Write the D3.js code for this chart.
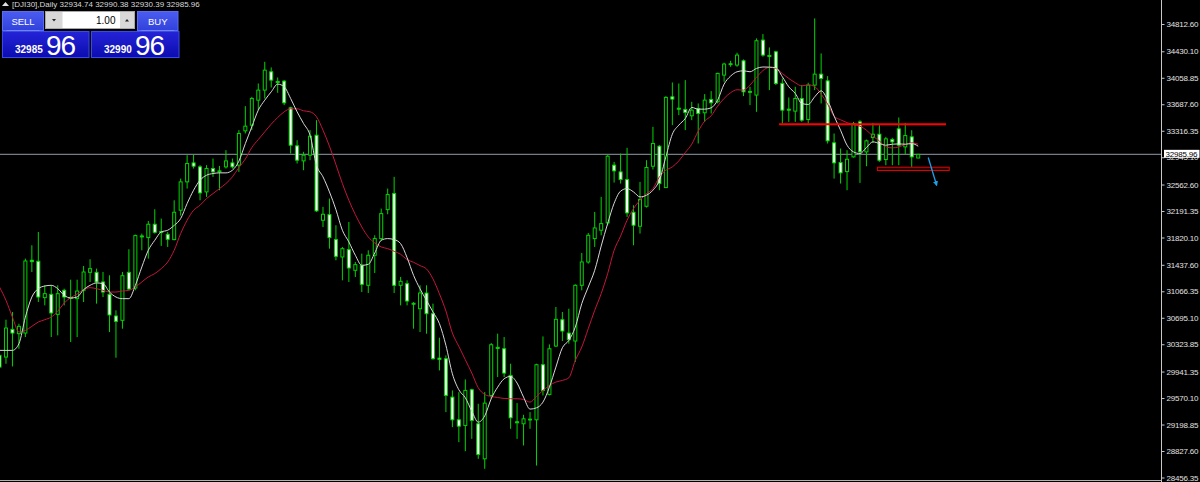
<!DOCTYPE html>
<html>
<head>
<meta charset="utf-8">
<script src="https://cdn.jsdelivr.net/npm/d3@7"></script>
<style>
  html, body { margin: 0; padding: 0; background: #000; }
  svg { display: block; }
  text { font-family: "Liberation Sans", Arial, sans-serif; }
</style>
</head>
<body>
<div id="chart"></div>
<script>
// DJI30 daily candles (bar index 0..142)
const opens = [30168,30144,30532,30472,30481,31501,31487,30977,31024,30743,31080,30981,30963,31080,31332,31332,31197,31024,30720,30659,
  31332,31112,31842,31819,32006,31903,31865,31791,32202,32600,32866,32810,32459,32787,32754,32810,32866,32834,33315,33395,
  33745,33886,34143,34007,34012,33638,33105,32894,32974,33254,32062,32141,31791,31547,31650,31360,31430,31150,31571,31805,
  32211,32436,31150,31173,30897,30822,31042,30752,30130,30121,29583,29265,29186,29686,29209,28718,29606,30280,30261,29887,
  29237,29209,29265,29265,30037,29621,30299,30668,30481,30369,31150,31477,31805,31922,32024,32834,32740,32632,32174,31978,
  32258,32819,33100,32520,33792,33633,33615,33526,33629,33568,33755,33722,34096,34255,34237,34297,33867,33816,34587,34372,
  34423,33979,33619,33591,33769,33474,33956,34110,34016,33147,32871,32744,32950,33441,33020,33221,33268,32913,33193,33343,
  33090,33231,32934.74];
const highs = [30214,30668,30776,30612,31524,31711,31898,31150,31150,31150,31103,31229,31229,31421,31515,31384,31337,31290,30799,31337,
  31655,31861,31875,32052,32216,32085,31898,32342,32646,32974,32983,32834,32834,32927,32824,33044,32927,33325,33661,33792,
  33979,34283,34204,34063,34026,33652,33184,33021,33325,33465,32249,32366,31992,31688,32038,31477,31594,31641,31851,32225,
  32506,32670,31267,31220,30916,31150,31150,30893,30416,30168,29677,29653,29831,29700,29490,29653,30341,30472,30425,30051,
  29499,29335,29373,30051,30434,30322,30846,30776,30822,31164,31603,31884,32179,32389,32974,32880,32997,33077,32272,32600,
  32904,33371,33114,33802,33993,33979,34026,33722,33699,33830,33872,34129,34270,34297,34410,34316,33933,34611,34672,34484,
  34437,34049,33783,33933,33956,33989,34891,34400,34082,33278,33067,33044,33441,33465,33193,33427,33394,33231,33217,33502,
  33427,33324,32990.38];
const lows = [29957,30051,30013,30261,30425,31337,30916,30869,30425,30448,30869,30355,30425,30916,31197,30893,30986,30495,30135,30542,
  31080,31080,31641,31524,31875,31702,31688,31781,32127,32506,32787,32342,32389,32670,32483,32787,32787,32740,33278,33325,
  33605,33769,33923,33848,33675,32997,32857,32763,32904,32179,31968,31664,31501,31220,31197,31267,31056,31042,31323,31772,
  32146,31042,30869,30869,30542,30495,30472,30107,29957,29373,29162,28952,28825,28998,28718,28578,29560,29864,29864,29139,
  28998,28905,29139,28624,29606,29606,30285,30369,30332,30074,31080,31454,31688,31851,31992,32590,32576,32109,31711,31875,
  32240,32773,32483,32515,33395,33535,33325,33465,33138,33441,33558,33699,34003,34213,34213,33802,33675,33582,34354,33886,
  33956,33418,33441,33441,33441,33418,33886,33699,33137,32646,32576,32483,32941,32585,32819,33147,32880,32833,32833,32833,
  32988,32810,32930.39];
const closes = [30004,30551,30481,30575,31491,31482,30986,31033,30762,31033,30986,30967,31070,31337,31384,31197,31056,30734,30645,31285,
  31098,31847,31828,32006,31893,31889,31795,32174,32600,32857,32820,32445,32787,32740,32740,32894,32810,33278,33381,33769,
  33886,34166,34026,33993,33708,33114,32904,32974,33240,32193,32146,31819,31557,31664,31393,31440,31164,31571,31805,32155,
  32422,31150,31206,30930,30888,31042,30752,30121,30112,29607,29265,29176,29677,29256,28779,29499,30317,30266,29920,29293,
  29223,29279,29274,30037,29677,30261,30673,30509,30388,31150,31477,31851,31954,32015,32960,32754,32632,32165,31992,32352,
  32801,33138,32576,33783,33760,33619,33572,33605,33558,33746,33708,34120,34251,34246,34377,33862,33858,34578,34377,34358,
  33979,33605,33605,33769,33465,33956,34110,34049,33175,32866,32726,32917,33418,33020,33175,33268,32903,33203,33160,33114,
  33249,32950,32985.96];

// moving averages as drawn on the chart (fast = white, slow = crimson)
const fastMA = [30238,30238,30238,30331,30705,30986,31103,31140,31150,31103,31010,30972,30986,31089,31150,31183,31173,31056,30986,30963,
  30963,31150,31407,31641,31781,31898,31922,31990,32085,32296,32483,32623,32693,32717,32726,32726,32763,32890,33137,33371,
  33605,33745,33862,33970,33933,33769,33582,33418,33254,32834,32670,32459,32211,31921,31758,31571,31430,31444,31603,31781,
  31805,31791,31734,31538,31290,31100,30939,30776,30612,30308,29910,29686,29574,29387,29232,29320,29560,29723,29840,29873,
  29780,29583,29415,29433,29513,29723,30004,30275,30378,30565,30893,31126,31360,31700,32015,32300,32470,32506,32459,32389,
  32413,32483,32623,32950,33269,33395,33488,33643,33619,33619,33638,33746,33970,34082,34143,34157,34143,34190,34210,34208,
  34199,34073,33932,33839,33699,33685,33792,33876,33745,33521,33324,33114,33020,32997,33081,33161,33137,33114,33128,33132,
  33128,33137,33100];
const slowMA = [31126,30939,30705,30495,30518,30575,30635,30668,30705,30785,30902,30977,31028,31089,31117,31103,31080,31056,31056,31070,
  31080,31126,31197,31267,31314,31384,31477,31641,31875,32062,32202,32272,32366,32436,32506,32576,32670,32800,32920,33081,
  33193,33301,33409,33502,33582,33624,33624,33596,33582,33512,33325,33100,32843,32576,32342,32141,31968,31828,31744,31688,
  31664,31627,31585,31510,31473,31426,31379,31240,31030,30790,30481,30294,30107,29920,29714,29620,29592,29578,29564,29560,
  29560,29550,29513,29592,29677,29747,29794,29817,29854,30098,30285,30542,30799,31033,31313,31641,31840,32062,32226,32342,
  32436,32506,32670,32763,32810,32894,33011,33128,33311,33451,33526,33661,33769,33849,33891,33886,33956,34064,34160,34204,
  34190,34119,34049,33990,33945,33960,33935,33830,33690,33520,33470,33430,33400,33380,33324,33240,33175,33090,33076,33090,
  33123,33147,33128];

const tickLabels = ["34812.60","34430.10","34058.85","33687.60","33316.35","32945.10","32562.60","32191.35","31820.10",
  "31437.60","31066.35","30695.10","30323.85","29941.35","29570.10","29198.85","28827.60","28456.35"];

const symbolTitle = "[DJI30],Daily";
const ohlcText = ["32934.74", "32990.38", "32930.39", "32985.96"];
const bidPrice = "32985.96";
const bidBig = ["32985", "96"];
const askBig = ["32990", "96"];
const lotSize = "1.00";

// drawn objects: [bar index start, bar index end, price]
const resistanceLine = [120.5, 146.3, 33409];
const supportBox = [135.7, 146.8, 32805, 32759];
const arrowPath = [[143.55, 32941], [144.85, 32553]];

const W = 1200, H = 482;
const axisX = 1161.5;
const green = "#00d400";

const svg = d3.select("#chart").append("svg")
  .attr("width", W).attr("height", H)
  .style("background", "#000");

const x = d3.scaleLinear().domain([0, 142]).range([-0.5, 918.2]);
const y = d3.scaleLinear().domain([28456.35, 34812.60]).range([477.5, 24]);

const plot = svg.append("g");
plot.append("clipPath").attr("id", "clip")
  .append("rect").attr("x", 0).attr("y", 0).attr("width", axisX).attr("height", 480);
const g = plot.append("g").attr("clip-path", "url(#clip)");

const bars = opens.map((o, i) => ({ i, o, h: highs[i], l: lows[i], c: closes[i] }));

// current bid line
g.append("line")
  .attr("x1", 0).attr("x2", axisX)
  .attr("y1", y(+bidPrice)).attr("y2", y(+bidPrice))
  .attr("stroke", "#747c86").attr("stroke-width", 1.3);

// wicks
g.selectAll(".wick").data(bars).join("line")
  .attr("class", "wick")
  .attr("x1", (d) => x(d.i)).attr("x2", (d) => x(d.i))
  .attr("y1", (d) => y(d.h)).attr("y2", (d) => y(d.l))
  .attr("stroke", green).attr("stroke-width", 1);

// bodies: bull = black, bear = white
g.selectAll(".body").data(bars).join("rect")
  .attr("class", "body")
  .attr("x", (d) => x(d.i) - 1.5)
  .attr("width", 3)
  .attr("y", (d) => y(Math.max(d.o, d.c)))
  .attr("height", (d) => Math.max(0.8, Math.abs(y(d.o) - y(d.c))))
  .attr("fill", (d) => (d.c >= d.o ? "#000" : "#fff"))
  .attr("stroke", green).attr("stroke-width", 1);

const maLine = d3.line()
  .x((d, i) => x(i))
  .y((d) => y(d))
  .curve(d3.curveMonotoneX);

g.append("path").datum(slowMA)
  .attr("d", maLine).attr("fill", "none")
  .attr("stroke", "#c4163c").attr("stroke-width", 1);

g.append("path").datum(fastMA)
  .attr("d", maLine).attr("fill", "none")
  .attr("stroke", "#d8d8d8").attr("stroke-width", 1);

// drawn objects
g.append("line")
  .attr("x1", x(resistanceLine[0])).attr("x2", x(resistanceLine[1]))
  .attr("y1", y(resistanceLine[2])).attr("y2", y(resistanceLine[2]))
  .attr("stroke", "#ff0000").attr("stroke-width", 2);

g.append("rect")
  .attr("x", x(supportBox[0]))
  .attr("y", y(supportBox[2]))
  .attr("width", x(supportBox[1]) - x(supportBox[0]))
  .attr("height", y(supportBox[3]) - y(supportBox[2]))
  .attr("fill", "#2a0000").attr("stroke", "#e00000").attr("stroke-width", 1);

svg.append("defs").append("marker")
  .attr("id", "arrowHead").attr("viewBox", "0 0 10 10")
  .attr("refX", 8).attr("refY", 5)
  .attr("markerWidth", 4).attr("markerHeight", 4)
  .attr("orient", "auto")
  .append("path").attr("d", "M0,0 L10,5 L0,10 z").attr("fill", "#1ea0e8");

g.append("line")
  .attr("x1", x(arrowPath[0][0])).attr("y1", y(arrowPath[0][1]))
  .attr("x2", x(arrowPath[1][0])).attr("y2", y(arrowPath[1][1]))
  .attr("stroke", "#1ea0e8").attr("stroke-width", 1.3)
  .attr("marker-end", "url(#arrowHead)");

// frame lines
svg.append("line")
  .attr("x1", axisX).attr("x2", axisX).attr("y1", 0).attr("y2", 482)
  .attr("stroke", "#c8c8c8").attr("stroke-width", 1);
svg.append("line")
  .attr("x1", 0).attr("x2", axisX).attr("y1", 480.5).attr("y2", 480.5)
  .attr("stroke", "#b0b0b0").attr("stroke-width", 1);

// price axis
const tickValues = tickLabels.map((t) => +t);
svg.append("g")
  .attr("transform", `translate(${axisX},0)`)
  .call(d3.axisRight(y).tickValues(tickValues)
    .tickFormat((d, i) => tickLabels[i]).tickSize(3).tickPadding(2))
  .call((a) => a.select(".domain").remove())
  .call((a) => a.selectAll("line").attr("stroke", "#c8c8c8"))
  .call((a) => a.selectAll("text")
    .attr("fill", "#e0e0e0")
    .style("font-size", "8px")
    .style("font-family", "'Liberation Sans', Arial, sans-serif")
    .style("letter-spacing", "-0.2px"));

// bid label
const bidY = y(+bidPrice);
svg.append("rect")
  .attr("x", axisX + 2.5).attr("y", bidY - 4.5)
  .attr("width", W - axisX - 3).attr("height", 8)
  .attr("fill", "#fff");
svg.append("text")
  .attr("x", axisX + 4).attr("y", bidY + 2.8)
  .attr("fill", "#000")
  .style("font-size", "8px").style("letter-spacing", "-0.2px")
  .text(bidPrice);

// header
svg.append("path").attr("d", "M2,6 L5.5,2 L9,6 Z").attr("fill", "#e0e0e0");
svg.append("text")
  .attr("x", 12).attr("y", 6.5)
  .attr("fill", "#d8d8d8")
  .style("font-size", "8px")
  .text(`${symbolTitle}  ${ohlcText.join(" ")}`);

// one-click trading panel
const defs = svg.select("defs");
const btnGrad = defs.append("linearGradient").attr("id", "btnGrad").attr("x1", 0).attr("y1", 0).attr("x2", 0).attr("y2", 1);
btnGrad.append("stop").attr("offset", "0%").attr("stop-color", "#4a5cf0");
btnGrad.append("stop").attr("offset", "100%").attr("stop-color", "#3142dc");
const boxGrad = defs.append("linearGradient").attr("id", "boxGrad").attr("x1", 0).attr("y1", 0).attr("x2", 0).attr("y2", 1);
boxGrad.append("stop").attr("offset", "0%").attr("stop-color", "#2424d8");
boxGrad.append("stop").attr("offset", "100%").attr("stop-color", "#0c0cb0");

const panel = svg.append("g");
const sides = [
  { label: "SELL", bx: 2.5, bw: 41, px: 2.5, pw: 86.5, big: bidBig, sx: 15, bgx: 46 },
  { label: "BUY", bx: 137.5, bw: 40.5, px: 91.5, pw: 87.5, big: askBig, sx: 104, bgx: 135 },
];
sides.forEach((s) => {
  panel.append("rect")
    .attr("x", s.px).attr("y", 31.5).attr("width", s.pw).attr("height", 26)
    .attr("fill", "url(#boxGrad)").attr("stroke", "#3a4ae8").attr("stroke-width", 1);
  panel.append("rect")
    .attr("x", s.bx).attr("y", 11.5).attr("width", s.bw).attr("height", 19)
    .attr("fill", "url(#btnGrad)").attr("stroke", "#5a6cf4").attr("stroke-width", 1);
  panel.append("line")
    .attr("x1", s.bx + 4).attr("x2", s.bx + s.bw - 4).attr("y1", 30.5).attr("y2", 30.5)
    .attr("stroke", "#7a88f4").attr("stroke-width", 0.8);
  panel.append("text")
    .attr("x", s.bx + s.bw / 2).attr("y", 24.5).attr("text-anchor", "middle")
    .attr("fill", "#fff").style("font-size", "9.5px")
    .text(s.label);
  panel.append("text")
    .attr("x", s.sx).attr("y", 53).attr("fill", "#fff")
    .style("font-size", "10px").style("font-weight", "bold")
    .text(s.big[0]);
  panel.append("text")
    .attr("x", s.bgx).attr("y", 55).attr("fill", "#fff")
    .style("font-size", "28px").style("letter-spacing", "-1px")
    .text(s.big[1]);
});

// lot spinner
panel.append("rect").attr("x", 45.5).attr("y", 11.5).attr("width", 89).attr("height", 17)
  .attr("fill", "#fff").attr("stroke", "#a8a8a8");
panel.append("rect").attr("x", 46).attr("y", 12).attr("width", 16.5).attr("height", 16)
  .attr("fill", "#d8d8d8");
panel.append("rect").attr("x", 120).attr("y", 12).attr("width", 14).attr("height", 16)
  .attr("fill", "#d8d8d8");
panel.append("path").attr("d", "M52,19 L56,19 L54,21.5 Z").attr("fill", "#222");
panel.append("path").attr("d", "M125,21.5 L129,21.5 L127,19 Z").attr("fill", "#222");
panel.append("text")
  .attr("x", 115.5).attr("y", 24).attr("text-anchor", "end")
  .attr("fill", "#000").style("font-size", "10px")
  .text(lotSize);
</script>
</body>
</html>
